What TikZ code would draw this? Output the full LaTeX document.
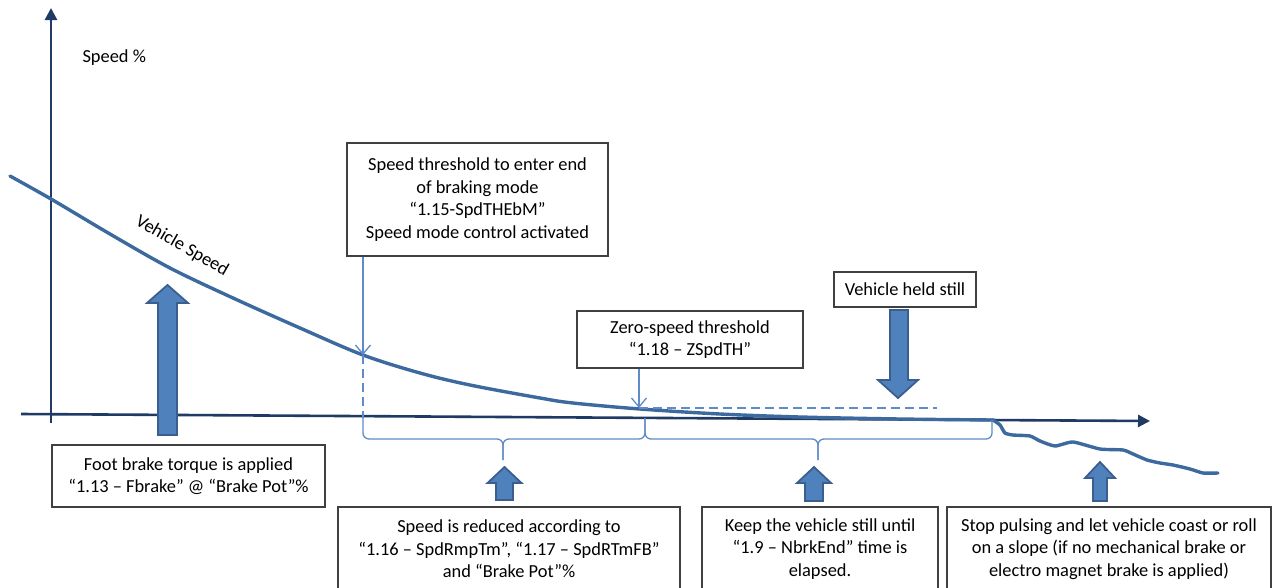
\documentclass[tikz,border=0pt]{standalone}
\usepackage{fontspec}
\setmainfont{Carlito}
\usetikzlibrary{arrows.meta}
\definecolor{axisblue}{HTML}{1F3A64}
\definecolor{curveblue}{HTML}{3D6A9E}
\definecolor{linkblue}{HTML}{5F8CC8}
\definecolor{arrowfill}{HTML}{4F81BD}
\definecolor{arrowedge}{HTML}{3A5F8F}
\definecolor{boxgray}{HTML}{404040}
\newcommand{\labelfont}{\fontsize{18.4}{22.5}\selectfont}
\tikzset{
  axisline/.style={draw=axisblue, line width=2.6pt, -{Triangle[length=12pt,width=12pt]}},
  speedline/.style={draw=curveblue, line width=3.4pt, line join=round, line cap=round},
  infobox/.style={draw=boxgray, line width=1.3pt, align=center, inner sep=0pt, font=\labelfont, fill=white},
  pointer/.style={draw=linkblue, line width=1.3pt, -{Straight Barb[length=9pt,width=15pt,line width=1.3pt]}},
  guide/.style={draw=linkblue, line width=1.3pt, dash pattern=on 9pt off 5pt},
  bracket/.style={draw=linkblue, line width=1.3pt, rounded corners=6pt},
  blockarrow/.style={fill=arrowfill, draw=arrowedge, line width=1.8pt, line join=miter},
}
\begin{document}
\begin{tikzpicture}[x=1pt, y=-1pt]
\clip (0,0) rectangle (1274,587);
\fill[white] (0,0) rectangle (1274,587);

% axes
\coordinate (xo) at (21,414);
\coordinate (xe) at (1150,421);
\coordinate (yo) at (51,423);
\coordinate (ye) at (51,8);
\draw[axisline] (yo) -- (ye);
\draw[axisline] (xo) -- (xe);
\node[font=\labelfont, anchor=west] (ylabel) at (79,58) {Speed \%};

% vehicle speed curve
\draw[speedline] plot[smooth, tension=0.55] coordinates {
  (10,176) (51,199) (110,234) (170,268) (233,298) (300,328) (363,355)
  (420,373) (470,385) (540,398) (573,403) (640,409) (720,414) (800,417)
  (900,419) (993,420)};
\draw[speedline] plot[smooth, tension=0.35] coordinates {
  (993,420) (1000,425) (1005,433) (1013,435) (1030,436) (1040,441) (1055,446)
  (1073,442) (1100,449) (1123,450) (1133,454) (1147,460) (1160,463)
  (1173,465) (1190,469) (1203,473) (1218,473)};
\node[font=\labelfont, rotate=-30] (vlabel) at (182,246) {Vehicle Speed};

% threshold markers on the curve
\coordinate (p1) at (363,355);
\coordinate (p2) at (639,408);
\coordinate (s0) at (363,418);
\coordinate (s1) at (645,418);
\coordinate (s2) at (992,420);
\coordinate (hz) at (937,408);
\draw[guide] (p1) -- (s0);
\draw[guide] (p2) -- (hz);

% braces under the time axis
\coordinate (k1) at (503,460);
\coordinate (k2) at (818,460);
\draw[bracket] (s0) -- (363,439) -- (503,439) -- (k1);
\draw[bracket] (k1) -- (503,439) -- (645,439) -- (s1);
\draw[bracket] (s1) -- (645,439) -- (818,439) -- (k2);
\draw[bracket] (k2) -- (818,439) -- (992,439) -- (s2);

% text boxes
\node[infobox, minimum width=261, minimum height=113] (t1) at (477.5,199.5)
  {Speed threshold to enter end\\of braking mode\\“1.15-SpdTHEbM”\\Speed mode control activated};
\node[infobox, minimum width=226, minimum height=57] (t2) at (690,339.5)
  {Zero-speed threshold\\“1.18 – ZSpdTH”};
\node[infobox, minimum width=142, minimum height=35] (t3) at (905,289.5)
  {Vehicle held still};
\node[infobox, minimum width=273, minimum height=62] (b0) at (188.5,476)
  {Foot brake torque is applied\\“1.13 – Fbrake” @ “Brake Pot”\%};
\node[infobox, minimum width=342, minimum height=84] (b1) at (509,549)
  {Speed is reduced according to\\“1.16 – SpdRmpTm”, “1.17 – SpdRTmFB”\\and “Brake Pot”\%};
\node[infobox, minimum width=236, minimum height=84] (b2) at (820,549)
  {Keep the vehicle still until\\“1.9 – NbrkEnd” time is\\elapsed.};
\node[infobox, minimum width=324, minimum height=84] (b3) at (1109,549)
  {Stop pulsing and let vehicle coast or roll\\on a slope (if no mechanical brake or\\electro magnet brake is applied)};

% pointers from the threshold boxes
\draw[pointer] (t1.south -| p1) -- (p1);
\draw[pointer] (t2.south -| p2) -- (p2);

% block arrows
\draw[blockarrow] (158,435) -- (158,303) -- (147,303) -- (167.5,285) -- (188,303) -- (177,303) -- (177,435) -- cycle;
\draw[blockarrow] (890,310) -- (890,380) -- (878,380) -- (898,398) -- (918,380) -- (908,380) -- (908,310) -- cycle;
\draw[blockarrow] (496,500) -- (496,483) -- (487.5,483) -- (504.5,467) -- (521.5,483) -- (513,483) -- (513,500) -- cycle;
\draw[blockarrow] (805,501) -- (805,483) -- (797,483) -- (814,467) -- (831,483) -- (823,483) -- (823,501) -- cycle;
\draw[blockarrow] (1093,501) -- (1093,478) -- (1085,478) -- (1100,462) -- (1115,478) -- (1107,478) -- (1107,501) -- cycle;
\end{tikzpicture}
\end{document}
